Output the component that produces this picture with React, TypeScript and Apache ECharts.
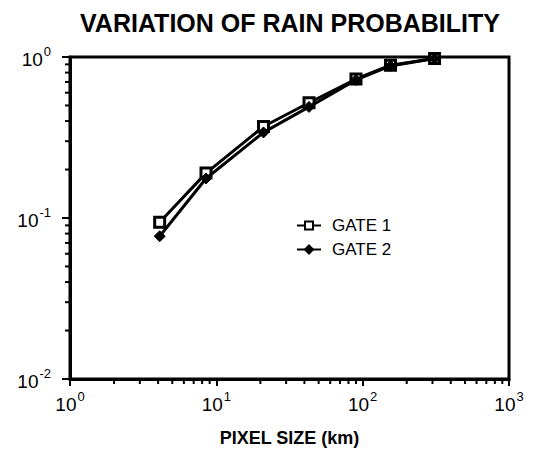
import React, { useEffect, useRef } from "react";
import * as echarts from "echarts";

const pixelSizes = [4.1, 8.5, 21, 43, 90, 155, 310];
const gate1 = [0.094, 0.19, 0.37, 0.52, 0.73, 0.89, 0.98];
const gate2 = [0.077, 0.176, 0.34, 0.49, 0.72, 0.88, 0.98];
const seriesNames = ["GATE 1", "GATE 2"];
const xMinorTicks = [1, 10, 100].flatMap((d) => [2, 3, 4, 5, 6, 7, 8, 9].map((m) => m * d));
const yMinorTicks = [0.01, 0.1].flatMap((d) => [2, 3, 4, 5, 6, 7, 8, 9].map((m) => +(m * d).toFixed(3)));

const FONT = "'Liberation Sans', Arial, Helvetica, sans-serif";

const expLabel = (v: number) => {
  const e = Math.round(Math.log10(v));
  return `{b|10}{s|${e}}`;
};

const rich = {
  b: { fontSize: 19, fontFamily: FONT, color: "#000", verticalAlign: "bottom", lineHeight: 24 },
  s: { fontSize: 13, fontFamily: FONT, color: "#000", verticalAlign: "top", lineHeight: 24, padding: [0, 0, 9, 1] },
};

export default function App() {
  const ref = useRef<HTMLDivElement>(null);
  useEffect(() => {
    document.body.style.margin = "0";
    const chart = echarts.init(ref.current!, null, { renderer: "svg" });
    const tickData = [
      ...xMinorTicks.map((v) => [v, 0.01, 0]),
      ...yMinorTicks.map((v) => [1, v, 1]),
    ];
    chart.setOption({
      animation: false,
      backgroundColor: "#fff",
      title: {
        text: "VARIATION OF RAIN PROBABILITY",
        left: 285,
        top: 5,
        textAlign: "center",
        textStyle: { fontFamily: FONT, fontWeight: "bold", fontSize: 25, color: "#000" },
      },
      legend: {
        data: seriesNames,
        orient: "vertical",
        left: 291,
        top: 212,
        itemWidth: 24,
        itemHeight: 10,
        itemGap: 7,
        textStyle: { fontFamily: FONT, fontSize: 17, color: "#000", padding: [0, 0, 0, 6] },
      },
      grid: {
        left: 70,
        right: 25,
        top: 57,
        bottom: 69,
        show: true,
        borderColor: "#000",
        borderWidth: 3,
        containLabel: false,
      },
      xAxis: {
        type: "log",
        logBase: 10,
        min: 1,
        max: 1000,
        name: "PIXEL SIZE (km)",
        nameLocation: "middle",
        nameGap: 50,
        nameTextStyle: { fontFamily: FONT, fontWeight: "bold", fontSize: 18, color: "#000" },
        axisLine: { lineStyle: { color: "#000", width: 3 } },
        axisTick: { length: 7, lineStyle: { color: "#000", width: 2 } },
        splitLine: { show: false },
        axisLabel: { formatter: expLabel, rich, margin: 11, fontSize: 19, fontFamily: FONT, color: "#000" },
      },
      yAxis: {
        type: "log",
        logBase: 10,
        min: 0.01,
        max: 1,
        axisLine: { lineStyle: { color: "#000", width: 3 } },
        axisTick: { length: 8, lineStyle: { color: "#000", width: 2 } },
        splitLine: { show: false },
        axisLabel: { formatter: expLabel, rich, margin: 19, fontSize: 19, fontFamily: FONT, color: "#000" },
      },
      series: [
        {
          name: "ticks",
          type: "custom",
          coordinateSystem: "cartesian2d",
          clip: false,
          silent: true,
          encode: { x: 0, y: 1 },
          data: tickData,
          renderItem: (params: any, api: any) => {
            const t = api.value(2);
            const p = api.coord([api.value(0), api.value(1)]);
            const len = 5;
            const shape =
              t === 0
                ? { x1: p[0], y1: p[1], x2: p[0], y2: p[1] + len }
                : { x1: p[0], y1: p[1], x2: p[0] - len, y2: p[1] };
            return { type: "line", shape, style: { stroke: "#000", lineWidth: 2 } };
          },
        },
        {
          name: seriesNames[0],
          type: "line",
          data: pixelSizes.map((x, i) => [x, gate1[i]]),
          symbol: "rect",
          symbolSize: 10,
          lineStyle: { color: "#000", width: 3 },
          itemStyle: { color: "#fff", borderColor: "#000", borderWidth: 3 },
          z: 2,
        },
        {
          name: seriesNames[1],
          type: "line",
          data: pixelSizes.map((x, i) => [x, gate2[i]]),
          symbol: "diamond",
          symbolSize: 11,
          lineStyle: { color: "#000", width: 3 },
          itemStyle: { color: "#000", borderColor: "#000", borderWidth: 1 },
          z: 3,
        },
      ],
    });
    return () => chart.dispose();
  }, []);
  return <div ref={ref} style={{ width: 534, height: 452 }} />;
}
